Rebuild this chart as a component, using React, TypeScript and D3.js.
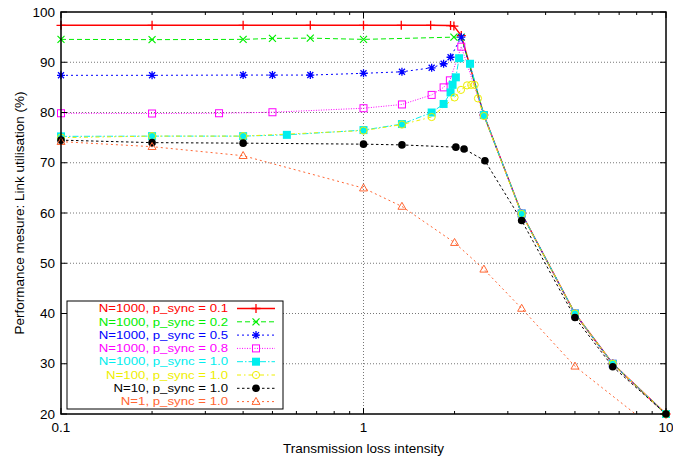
import React from 'react';
import * as d3 from 'd3';

const W = 673;
const H = 457;

// ---- data ----
const redX = [0.1, 0.2, 0.4, 0.667, 1, 1.333, 1.667, 1.94, 1.99, 2.105, 2.5, 3.333, 5, 6.667, 10];
const redY = [97.35, 97.35, 97.35, 97.35, 97.35, 97.35, 97.35, 97.3, 97.2, 95.3, 79.5, 59.9, 40.0, 30.0, 20.0];

const greenX = [0.1, 0.2, 0.4, 0.5, 0.667, 1, 1.99, 2.105, 2.5, 3.333, 5, 6.667, 10];
const greenY = [94.55, 94.5, 94.55, 94.75, 94.8, 94.55, 95.0, 95.0, 79.5, 59.9, 40.0, 30.0, 20.0];

const blueX = [0.1, 0.2, 0.4, 0.5, 0.667, 1, 1.34, 1.68, 1.84, 1.94, 2.105, 2.5, 3.333, 5, 6.667, 10];
const blueY = [87.4, 87.4, 87.45, 87.45, 87.45, 87.8, 88.1, 88.9, 89.7, 91.0, 95.0, 79.5, 59.9, 40.0, 30.0, 20.0];

const magentaX = [0.1, 0.2, 0.333, 0.5, 1, 1.34, 1.68, 1.84, 1.93, 2.105, 2.5, 3.333, 5, 6.667, 10];
const magentaY = [79.85, 79.8, 79.85, 80.05, 80.85, 81.6, 83.5, 85.0, 86.4, 93.1, 79.5, 59.9, 40.0, 30.0, 20.0];

const cyanX = [0.1, 0.2, 0.4, 0.558, 1, 1.34, 1.68, 1.84, 1.94, 1.97, 2.02, 2.07, 2.25, 2.5, 3.333, 5, 6.667, 10];
const cyanY = [75.25, 75.3, 75.3, 75.55, 76.5, 77.7, 80.0, 81.7, 84.0, 85.5, 87.0, 90.8, 89.7, 79.5, 59.9, 40.0, 30.0, 20.0];

const yellowX = [0.1, 0.2, 0.4, 1, 1.34, 1.68, 2.0, 2.1, 2.2, 2.27, 2.33, 2.39, 2.5, 3.333, 5, 6.667, 10];
const yellowY = [75.0, 75.3, 75.3, 76.4, 77.6, 79.1, 83.0, 84.5, 85.4, 85.5, 85.5, 82.8, 79.3, 59.8, 40.0, 30.0, 20.0];

const blackX = [0.1, 0.2, 0.4, 1, 1.34, 2.02, 2.15, 2.52, 3.333, 5, 6.667, 10];
const blackY = [74.5, 74.0, 73.9, 73.7, 73.55, 73.1, 72.75, 70.4, 58.5, 39.2, 29.4, 20.0];

const orangeX = [0.1, 0.2, 0.4, 1, 1.34, 2.0, 2.5, 3.333, 5, 10];
const orangeY = [74.2, 73.2, 71.4, 64.95, 61.3, 54.1, 48.8, 41.0, 29.5, 15.2];

const legendLabels = [
  'N=1000, p_sync = 0.1',
  'N=1000, p_sync = 0.2',
  'N=1000, p_sync = 0.5',
  'N=1000, p_sync = 0.8',
  'N=1000, p_sync = 1.0',
  'N=100, p_sync = 1.0',
  'N=10, p_sync = 1.0',
  'N=1, p_sync = 1.0',
];

const yTicks = [20, 30, 40, 50, 60, 70, 80, 90, 100];
const xMajorTicks = [0.1, 1, 10];
const xTickLabels = ['0.1', '1', '10'];

const xTitle = 'Transmission loss intensity';
const yTitle = 'Performance mesure: Link utilisation (%)';

// ---- styles ----
const seriesStyles = [
  { color: '#ff0000', dash: null, marker: 'plus', width: 1.4 },
  { color: '#00ee00', dash: '5,3', marker: 'cross', width: 1 },
  { color: '#0000ff', dash: '2,3', marker: 'star', width: 1 },
  { color: '#ff00ff', dash: '1,1.5', marker: 'squareOpen', width: 1 },
  { color: '#00eeee', dash: '6,2,1.5,2', marker: 'squareFilled', width: 1 },
  { color: '#eeee00', dash: '4,3,1.5,3', marker: 'circleOpen', width: 1 },
  { color: '#000000', dash: '2.5,2.5', marker: 'circleFilled', width: 1 },
  { color: '#ff6633', dash: '2,3', marker: 'triangleOpen', width: 1 },
];

const seriesData = [
  [redX, redY],
  [greenX, greenY],
  [blueX, blueY],
  [magentaX, magentaY],
  [cyanX, cyanY],
  [yellowX, yellowY],
  [blackX, blackY],
  [orangeX, orangeY],
];

const FONT = "'Liberation Sans', Arial, Helvetica, sans-serif";

function Marker({ type, cx, cy, color }: { type: string; cx: number; cy: number; color: string }) {
  const t = `translate(${cx},${cy})`;
  switch (type) {
    case 'plus':
      return <path transform={t} d="M-4.5,0H4.5M0,-4.5V4.5" stroke={color} strokeWidth={1.3} fill="none" />;
    case 'cross':
      return <path transform={t} d="M-3.5,-3.5L3.5,3.5M-3.5,3.5L3.5,-3.5" stroke={color} strokeWidth={1.2} fill="none" />;
    case 'star':
      return (
        <path
          transform={t}
          d="M-4,0H4M0,-4V4M-3,-3L3,3M-3,3L3,-3"
          stroke={color}
          strokeWidth={1.3}
          fill="none"
        />
      );
    case 'squareOpen':
      return <rect transform={t} x={-3.5} y={-3.5} width={7} height={7} stroke={color} strokeWidth={1} fill="none" />;
    case 'squareFilled':
      return <rect transform={t} x={-4} y={-4} width={8} height={8} fill={color} />;
    case 'circleOpen':
      return <circle transform={t} r={3.6} stroke={color} strokeWidth={1} fill="none" />;
    case 'circleFilled':
      return <circle transform={t} r={3.8} fill={color} />;
    case 'triangleOpen':
      return <path transform={t} d="M0,-4.2L4,2.8L-4,2.8Z" stroke={color} strokeWidth={1} fill="none" />;
    default:
      return null;
  }
}

export default function App() {
  const left = 61;
  const right = 666;
  const top = 12;
  const bottom = 414;

  const x = d3.scaleLog().domain([0.1, 10]).range([left, right]);
  const y = d3.scaleLinear().domain([20, 100]).range([bottom, top]);

  const minorTicks: number[] = [];
  [0.1, 1].forEach((d) => {
    for (let k = 2; k <= 9; k++) minorTicks.push(d * k);
  });

  const line = d3
    .line<[number, number]>()
    .x((d) => x(d[0]))
    .y((d) => y(d[1]));

  const legend = { x0: 67, x1: 283, y0: 301, y1: 409, textX: 228, lineX0: 237, lineX1: 275, markX: 256, rowY0: 308.5, rowH: 13.3 };

  return (
    <svg
      width={W}
      height={H}
      style={{ position: 'absolute', left: 0, top: 0, background: '#fff' }}
      fontFamily={FONT}
    >
      <defs>
        <clipPath id="plotClip">
          <rect x={left} y={top} width={right - left} height={bottom - top} />
        </clipPath>
      </defs>
      <rect x={0} y={0} width={W} height={H} fill="#fff" />

      {/* grid */}
      {yTicks
        .filter((v) => v > 20 && v < 100)
        .map((v) => (
          <line
            key={'gy' + v}
            x1={left}
            x2={right}
            y1={y(v)}
            y2={y(v)}
            stroke="#777"
            strokeWidth={1}
            strokeDasharray="1,2"
          />
        ))}
      <line x1={x(1)} x2={x(1)} y1={top} y2={bottom} stroke="#777" strokeWidth={1} strokeDasharray="1,2" />

      {/* series lines */}
      <g clipPath="url(#plotClip)">
        {seriesData.map(([xs, ys], i) => {
          const pts = xs.map((v, j) => [v, ys[j]] as [number, number]);
          const s = seriesStyles[i];
          return (
            <path
              key={'l' + i}
              d={line(pts) || ''}
              fill="none"
              stroke={s.color}
              strokeWidth={s.width}
              strokeDasharray={s.dash || undefined}
            />
          );
        })}
      </g>

      {/* markers */}
      {seriesData.map(([xs, ys], i) => {
        const s = seriesStyles[i];
        return (
          <g key={'m' + i}>
            {xs.map((v, j) =>
              ys[j] >= 20 && ys[j] <= 100 ? (
                <Marker key={j} type={s.marker} cx={x(v)} cy={y(ys[j])} color={s.color} />
              ) : null
            )}
          </g>
        );
      })}

      {/* legend */}
      <rect
        x={legend.x0}
        y={legend.y0}
        width={legend.x1 - legend.x0}
        height={legend.y1 - legend.y0}
        fill="#fff"
        stroke="#000"
        strokeWidth={1}
      />
      {legendLabels.map((lab, i) => {
        const s = seriesStyles[i];
        const yy = legend.rowY0 + i * legend.rowH;
        return (
          <g key={'lg' + i}>
            <g transform={`translate(${legend.textX},${yy}) scale(1.14,1)`}>
              <text
                x={0}
                y={0}
                textAnchor="end"
                dominantBaseline="central"
                fontSize={11.6}
                fill={s.color}
              >
                {lab}
              </text>
            </g>
            <line
              x1={legend.lineX0}
              x2={legend.lineX1}
              y1={yy}
              y2={yy}
              stroke={s.color}
              strokeWidth={s.width}
              strokeDasharray={s.dash || undefined}
            />
            <Marker type={s.marker} cx={legend.markX} cy={yy} color={s.color} />
          </g>
        );
      })}

      {/* frame */}
      <rect x={left} y={top} width={right - left} height={bottom - top} fill="none" stroke="#000" strokeWidth={1.5} />

      {/* y ticks */}
      {yTicks.map((v) => (
        <g key={'yt' + v}>
          <line x1={left} x2={left + 6} y1={y(v)} y2={y(v)} stroke="#000" />
          <line x1={right} x2={right - 6} y1={y(v)} y2={y(v)} stroke="#000" />
          <text x={left - 6} y={y(v)} textAnchor="end" dominantBaseline="central" fontSize={13.5} fill="#000">
            {v}
          </text>
        </g>
      ))}

      {/* x ticks */}
      {xMajorTicks.map((v, i) => (
        <g key={'xt' + v}>
          <line x1={x(v)} x2={x(v)} y1={bottom} y2={bottom - 6} stroke="#000" />
          <line x1={x(v)} x2={x(v)} y1={top} y2={top + 6} stroke="#000" />
          <text x={x(v)} y={bottom + 18} textAnchor="middle" fontSize={13.5} fill="#000">
            {xTickLabels[i]}
          </text>
        </g>
      ))}
      {minorTicks.map((v) => (
        <g key={'xm' + v}>
          <line x1={x(v)} x2={x(v)} y1={bottom} y2={bottom - 3} stroke="#000" />
          <line x1={x(v)} x2={x(v)} y1={top} y2={top + 3} stroke="#000" />
        </g>
      ))}

      {/* titles */}
      <text x={(left + right) / 2} y={453} textAnchor="middle" fontSize={13.5} fill="#000">
        {xTitle}
      </text>
      <text
        transform={`translate(19,${(top + bottom) / 2}) rotate(-90)`}
        textAnchor="middle"
        dominantBaseline="central"
        fontSize={13.5}
        fill="#000"
      >
        {yTitle}
      </text>
    </svg>
  );
}
